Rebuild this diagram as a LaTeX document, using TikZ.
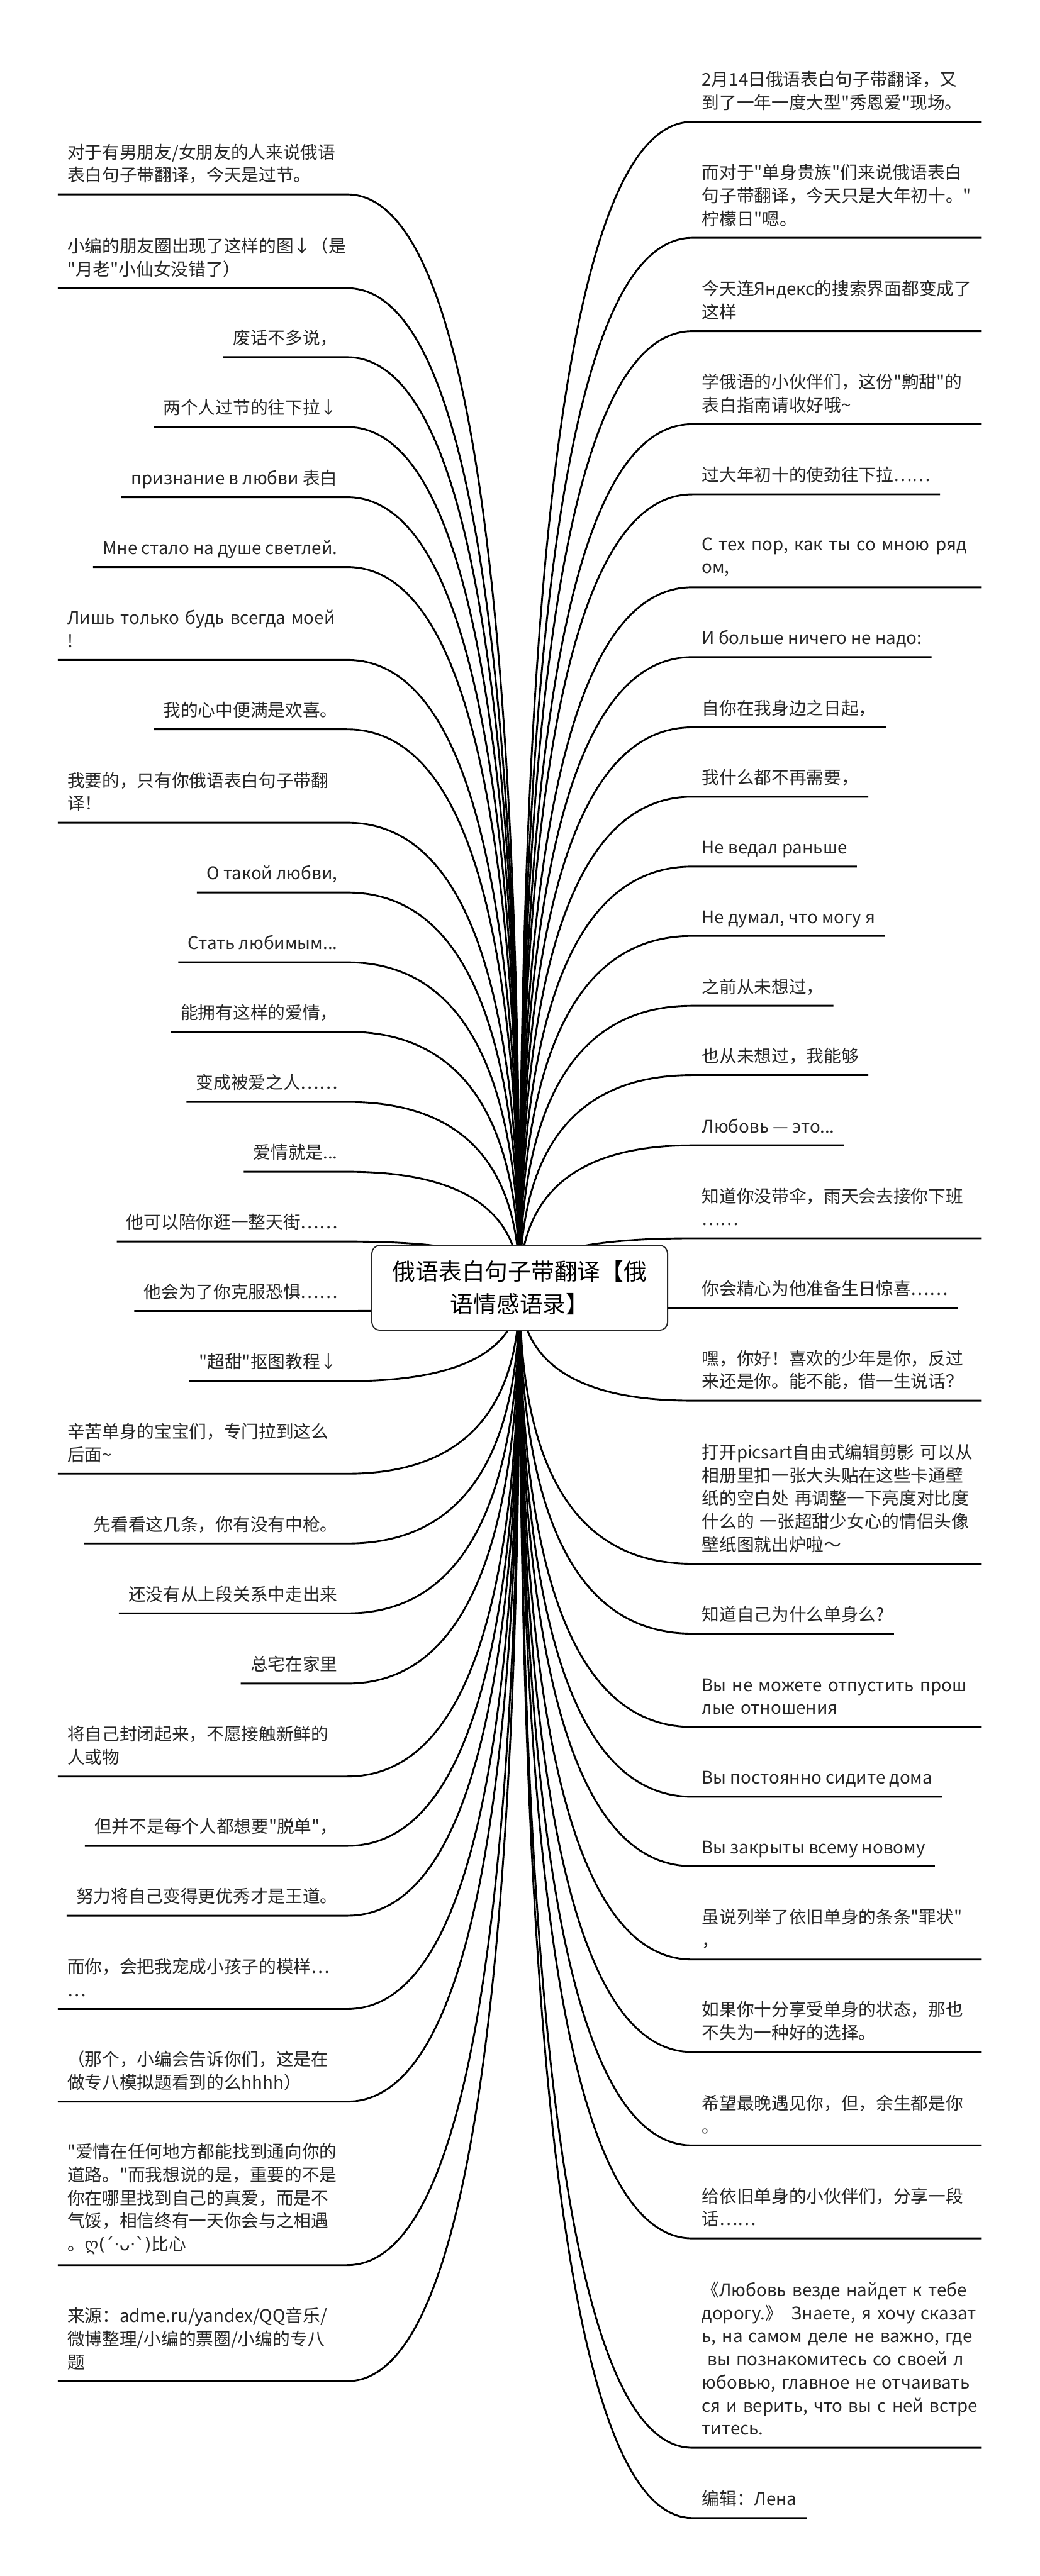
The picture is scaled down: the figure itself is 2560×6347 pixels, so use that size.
\documentclass[tikz,border=0pt]{standalone}
\usepackage{fontspec}
\setmainfont{Noto Sans CJK SC}[Ligatures=TeXOff]
\newfontfamily\kaofont{DejaVu Sans}
\usetikzlibrary{calc,backgrounds}
\begin{document}
\begin{tikzpicture}[x=0.01cm,y=-0.01cm,
  every node/.style={font=\fontsize{12.2pt}{16.2pt}\selectfont, text=black!85},
  leaf/.style={inner xsep=0.23cm, inner ysep=0.25cm, text depth=0.055cm, align=left},
  lleaf/.style={leaf, anchor=south east},
  rleaf/.style={leaf, anchor=south west},
  wide/.style={text depth=, text width=6.65cm,
    execute at end node={\vrule width 0pt height 0pt depth 0.055cm}},
  branch/.style={line width=0.045cm, black},
  topic/.style={draw=black!85, line width=0.03cm, rounded corners=0.2cm, fill=white,
    minimum width=7.28cm, minimum height=2.09cm, align=center,
    font=\fontsize{16.2pt}{22.8pt}\selectfont, text=black}]
\useasboundingbox (0,0) rectangle (2560,6347);
\node[topic] (root) at (1280,3173) {俄语表白句子带翻译【俄\\语情感语录】};

% left side
\node[lleaf,wide] (l1) at (855,479) {对于有男朋友/女朋友的人来说俄语\\表白句子带翻译，今天是过节。};
\node[lleaf,wide] (l2) at (855,710) {小编的朋友圈出现了这样的图↓（是\\"月老"小仙女没错了）};
\node[lleaf] (l3) at (855,880) {废话不多说，};
\node[lleaf] (l4) at (855,1052) {两个人过节的往下拉↓};
\node[lleaf] (l5) at (855,1225) {признание в любви 表白};
\node[lleaf] (l6) at (855,1397) {Мне стало на душе светлей.};
\node[lleaf,wide] (l7) at (855,1626) {\mbox{Лишь только будь всегда моей}\\!};
\node[lleaf] (l8) at (855,1797) {我的心中便满是欢喜。};
\node[lleaf,wide] (l9) at (855,2027) {我要的，只有你俄语表白句子带翻\\译！};
\node[lleaf] (l10) at (855,2199) {О такой любви,};
\node[lleaf] (l11) at (855,2371) {Стать любимым...};
\node[lleaf] (l12) at (855,2542) {能拥有这样的爱情，};
\node[lleaf] (l13) at (855,2715) {变成被爱之人……};
\node[lleaf] (l14) at (855,2887) {爱情就是...};
\node[lleaf] (l15) at (855,3059) {他可以陪你逛一整天街……};
\node[lleaf] (l16) at (855,3230) {他会为了你克服恐惧……};
\node[lleaf] (l17) at (855,3403) {"超甜"抠图教程↓};
\node[lleaf,wide] (l18) at (855,3631) {辛苦单身的宝宝们，专门拉到这么\\后面\textasciitilde};
\node[lleaf] (l19) at (855,3803) {先看看这几条，你有没有中枪。};
\node[lleaf] (l20) at (855,3975) {还没有从上段关系中走出来};
\node[lleaf] (l21) at (855,4148) {总宅在家里};
\node[lleaf,wide] (l22) at (855,4377) {将自己封闭起来，不愿接触新鲜的\\人或物};
\node[lleaf] (l23) at (855,4548) {但并不是每个人都想要"脱单"，};
\node[lleaf] (l24) at (855,4720) {努力将自己变得更优秀才是王道。};
\node[lleaf,wide] (l25) at (855,4950) {而你，会把我宠成小孩子的模样…\\…};
\node[lleaf,wide] (l26) at (855,5178) {（那个，小编会告诉你们，这是在\\做专八模拟题看到的么hhhh）};
\node[lleaf,wide] (l27) at (855,5581) {"爱情在任何地方都能找到通向你的\\道路。"而我想说的是，重要的不是\\你在哪里找到自己的真爱，而是不\\气馁，相信终有一天你会与之相遇\\。{\kaofont ღ(´·ᴗ·\char"60)}比心};
\node[lleaf,wide] (l28) at (855,5867) {来源：adme.ru/yandex/QQ音乐/\\微博整理/小编的票圈/小编的专八\\题};

% right side
\node[rleaf,wide] (r1) at (1705,300) {2月14日俄语表白句子带翻译，又\\到了一年一度大型"秀恩爱"现场。};
\node[rleaf,wide] (r2) at (1705,586) {而对于"单身贵族"们来说俄语表白\\句子带翻译，今天只是大年初十。"\\柠檬日"嗯。};
\node[rleaf,wide] (r3) at (1705,816) {今天连Яндекс的搜索界面都变成了\\这样};
\node[rleaf,wide] (r4) at (1705,1045) {学俄语的小伙伴们，这份"齁甜"的\\表白指南请收好哦\textasciitilde};
\node[rleaf] (r5) at (1705,1218) {过大年初十的使劲往下拉……};
\node[rleaf,wide] (r6) at (1705,1447) {\mbox{С тех пор, как ты со мною ряд}\\ом,};
\node[rleaf] (r7) at (1705,1619) {И больше ничего не надо:};
\node[rleaf] (r8) at (1705,1792) {自你在我身边之日起，};
\node[rleaf] (r9) at (1705,1963) {我什么都不再需要，};
\node[rleaf] (r10) at (1705,2135) {Не ведал раньше};
\node[rleaf] (r11) at (1705,2306) {Не думал, что могу я};
\node[rleaf] (r12) at (1705,2478) {之前从未想过，};
\node[rleaf] (r13) at (1705,2649) {也从未想过，我能够};
\node[rleaf] (r14) at (1705,2822) {Любовь — это...};
\node[rleaf,wide] (r15) at (1705,3051) {知道你没带伞，雨天会去接你下班\\……};
\node[rleaf] (r16) at (1705,3223) {你会精心为他准备生日惊喜……};
\node[rleaf,wide] (r17) at (1705,3451) {嘿，你好！喜欢的少年是你，反过\\来还是你。能不能，借一生说话？};
\node[rleaf,wide] (r18) at (1705,3853) {\mbox{打开picsart自由式编辑剪影 可以从}\\相册里扣一张大头贴在这些卡通壁\\\mbox{纸的空白处 再调整一下亮度对比度}\\\mbox{什么的 一张超甜少女心的情侣头像}\\壁纸图就出炉啦～};
\node[rleaf] (r19) at (1705,4025) {知道自己为什么单身么?};
\node[rleaf,wide] (r20) at (1705,4255) {\mbox{Вы не можете отпустить прош}\\лые отношения};
\node[rleaf] (r21) at (1705,4427) {Вы постоянно сидите дома};
\node[rleaf] (r22) at (1705,4598) {Вы закрыты всему новому};
\node[rleaf,wide] (r23) at (1705,4828) {虽说列举了依旧单身的条条"罪状"\\，};
\node[rleaf,wide] (r24) at (1705,5056) {如果你十分享受单身的状态，那也\\不失为一种好的选择。};
\node[rleaf,wide] (r25) at (1705,5286) {希望最晚遇见你，但，余生都是你\\。};
\node[rleaf,wide] (r26) at (1705,5515) {给依旧单身的小伙伴们，分享一段\\话……};
\node[rleaf,wide] (r27) at (1705,6031) {\mbox{《Любовь везде найдет к тебе}\\\mbox{дорогу.》 Знаете, я хочу сказат}\\\mbox{ь, на самом деле не важно, где}\\\mbox{\ вы познакомитесь со своей л}\\\mbox{юбовью, главное не отчаивать}\\\mbox{ся и верить, что вы с ней встре}\\титесь.};
\node[rleaf] (r28) at (1705,6204) {编辑：Лена};

\begin{pgfonlayer}{background}
\fill[white] (0,0) rectangle (2560,6347);
\foreach \i in {1,...,28}{
  \coordinate (kl) at (root.center |- l\i.south east);
  \draw[branch] (l\i.south west) -- (l\i.south east)
    .. controls ($(l\i.south east)!0.667!(kl)$) and ($(root.center)!0.667!(kl)$) .. (root.center);
  \coordinate (kr) at (root.center |- r\i.south west);
  \draw[branch] (r\i.south east) -- (r\i.south west)
    .. controls ($(r\i.south west)!0.667!(kr)$) and ($(root.center)!0.667!(kr)$) .. (root.center);
}
\end{pgfonlayer}
\end{tikzpicture}
\end{document}
